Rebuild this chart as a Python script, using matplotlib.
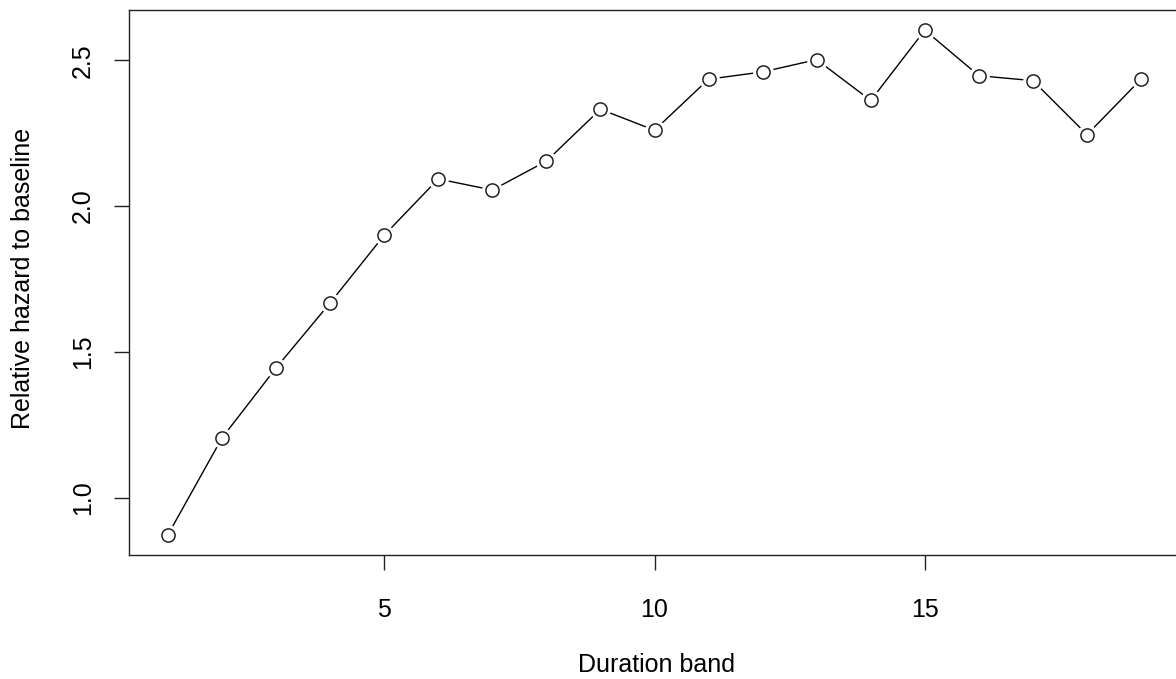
import numpy as np
import matplotlib.pyplot as plt

# relative hazard by duration band
band = np.arange(1, 20)
hazard = np.array([0.873, 1.205, 1.445, 1.668, 1.900, 2.093, 2.055, 2.154, 2.332,
                   2.260, 2.435, 2.460, 2.502, 2.362, 2.603, 2.447, 2.430, 2.245, 2.435])

plt.rcParams['font.family'] = ['Liberation Sans', 'DejaVu Sans']

W, H = 1176, 679
fig = plt.figure(figsize=(W / 100, H / 100), dpi=100)
# R-style plot region; right edge falls just outside the image
ax = fig.add_axes([129 / W, (H - 555) / H, (1180 - 129) / W, (555 - 10) / H])

# line with gaps around points, like R type="b"
ax.plot(band, hazard, color='black', lw=1.0, zorder=1)
ax.plot(band, hazard, 'o', ms=15, mfc='white', mec='none', zorder=2)
ax.plot(band, hazard, 'o', ms=9.5, mfc='white', mec='#222222', mew=1.1, zorder=3)

# 4% range extension as in R
lo, hi = band.min(), band.max()
ax.set_xlim(lo - 0.04 * (hi - lo), hi + 0.04 * (hi - lo))
lo, hi = hazard.min(), hazard.max()
ax.set_ylim(lo - 0.04 * (hi - lo), hi + 0.04 * (hi - lo))

ax.set_xticks([5, 10, 15])
ax.set_yticks([1.0, 1.5, 2.0, 2.5])
ax.set_yticklabels(['1.0', '1.5', '2.0', '2.5'], rotation=90, va='center')
ax.tick_params(axis='both', direction='out', length=11, width=1.0, labelsize=18, color='#222222')
ax.tick_params(axis='x', pad=20)
ax.tick_params(axis='y', pad=13.5)
for s in ax.spines.values():
    s.set_linewidth(1.0)
    s.set_color('#222222')

fig.text(656 / W, 1 - 665 / H, 'Duration band', ha='center', va='center', fontsize=18)
fig.text(23 / W, 1 - 278 / H, 'Relative hazard to baseline', ha='center', va='center',
         rotation=90, fontsize=18)

fig.savefig('out.png', dpi=100)
